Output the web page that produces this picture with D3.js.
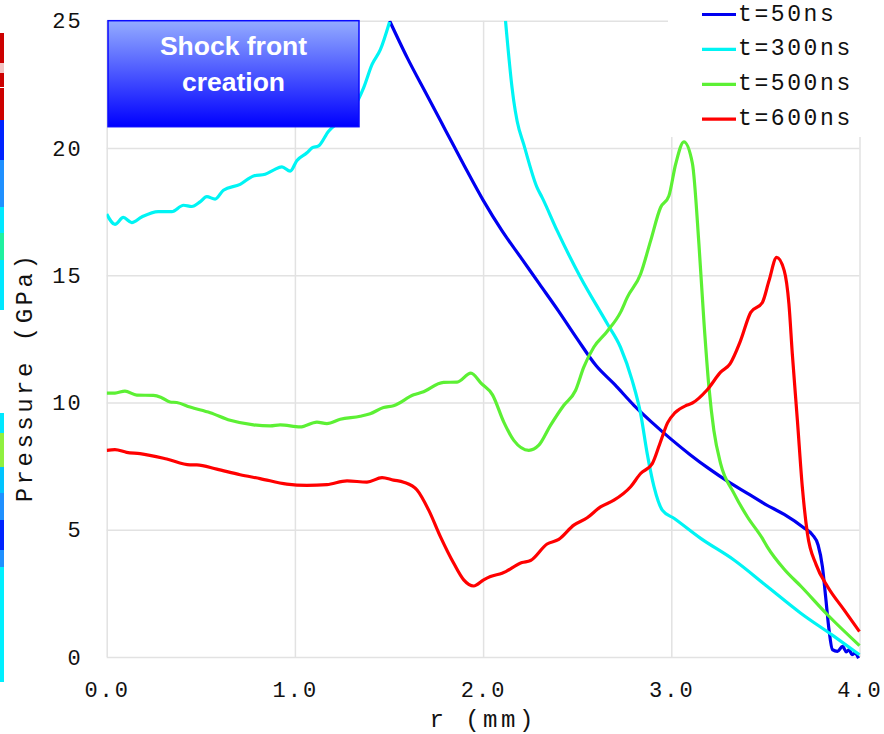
<!DOCTYPE html>
<html>
<head>
<meta charset="utf-8">
<script src="https://cdn.jsdelivr.net/npm/d3@7"></script>
<style>
  body { margin: 0; background: #fff; }
  text { font-family: "Liberation Mono", monospace; fill: #111; }
</style>
</head>
<body>
<div id="chart"></div>
<script>
// r (mm), pressure (GPa)
var t50 = [[1.503,25.0],[1.6,23.5],[1.7,22.1],[1.8,20.7],[1.9,19.3],[2.0,17.95],[2.1,16.75],[2.2,15.7],
  [2.3,14.65],[2.4,13.6],[2.5,12.5],[2.6,11.45],[2.7,10.7],[2.8,9.9],[2.9,9.2],[3.0,8.55],[3.1,7.95],
  [3.2,7.4],[3.3,6.9],[3.4,6.45],[3.5,6.0],[3.6,5.6],[3.7,5.1],[3.75,4.8],[3.78,4.4],[3.803,3.55],
  [3.82,2.37],[3.838,1.07],[3.856,0.29],[3.883,0.22],[3.91,0.42],[3.93,0.2],[3.945,0.29],[3.96,0.09],
  [3.975,0.15],[3.995,-0.05]];

var t300 = [[0,17.4],[0.044,17.0],[0.088,17.27],[0.133,17.07],[0.186,17.29],[0.274,17.5],[0.346,17.5],
  [0.408,17.75],[0.452,17.7],[0.496,17.88],[0.532,18.09],[0.576,17.99],[0.62,18.34],[0.709,18.57],
  [0.78,18.9],[0.842,18.97],[0.886,19.13],[0.931,19.26],[0.975,19.09],[1.011,19.51],[1.064,19.81],
  [1.091,20.0],[1.126,20.08],[1.179,20.66],[1.241,21.05],[1.312,21.57],[1.365,22.36],[1.41,23.28],
  [1.454,23.86],[1.503,24.95],null,
  [2.119,25.0],[2.154,22.36],[2.163,21.84],[2.181,21.05],[2.216,20.14],[2.287,18.44],[2.314,18.05],
  [2.394,16.74],[2.518,14.91],[2.66,13.09],[2.73,12.17],[2.792,10.87],[2.837,9.56],[2.872,7.99],
  [2.908,6.69],[2.952,5.77],[3.014,5.45],[3.156,4.66],[3.333,3.81],[3.51,2.77],[3.688,1.72],
  [3.865,0.81],[4.0,0.09]];

var t500 = [[0,10.37],[0.044,10.37],[0.097,10.45],[0.16,10.29],[0.248,10.28],[0.292,10.19],[0.337,10.02],
  [0.372,10.0],[0.443,9.82],[0.55,9.6],[0.656,9.3],[0.78,9.12],[0.869,9.08],[0.922,9.12],[1.028,9.04],
  [1.117,9.23],[1.17,9.17],[1.241,9.34],[1.347,9.46],[1.4,9.56],[1.471,9.8],[1.524,9.87],[1.631,10.3],
  [1.675,10.4],[1.79,10.79],[1.862,10.8],[1.935,11.15],[1.99,10.75],[2.05,10.3],[2.11,9.23],[2.163,8.51],
  [2.243,8.12],[2.296,8.32],[2.358,9.1],[2.429,9.89],[2.491,10.47],[2.535,11.39],[2.588,12.17],[2.66,12.8],
  [2.73,13.54],[2.766,14.13],[2.837,15.05],[2.89,16.35],[2.943,17.66],[2.987,18.11],[3.023,19.36],
  [3.067,20.24],[3.112,19.4],[3.147,16.2],[3.173,13.22],[3.2,10.6],[3.226,8.91],[3.262,7.6],[3.333,6.43],
  [3.404,5.51],[3.484,4.66],[3.51,4.33],[3.6,3.45],[3.69,2.77],[3.83,1.66],[4.0,0.45]];

var t600 = [[0,8.12],[0.044,8.15],[0.106,8.04],[0.177,7.99],[0.319,7.78],[0.443,7.55],[0.479,7.55],
  [0.585,7.38],[0.709,7.16],[0.815,7.01],[0.957,6.79],[1.064,6.74],[1.17,6.77],[1.277,6.92],[1.383,6.87],
  [1.463,7.05],[1.524,6.95],[1.578,6.87],[1.649,6.56],[1.711,5.77],[1.773,4.73],[1.844,3.68],[1.897,3.03],
  [1.95,2.79],[2.003,3.03],[2.039,3.16],[2.101,3.29],[2.207,3.71],[2.252,3.79],[2.34,4.44],[2.402,4.62],
  [2.482,5.18],[2.553,5.47],[2.624,5.9],[2.695,6.16],[2.784,6.69],[2.837,7.21],[2.899,7.6],[2.94,8.4],
  [2.98,9.2],[3.02,9.6],[3.085,9.9],[3.112,9.98],[3.191,10.5],[3.262,11.19],[3.312,11.52],[3.368,12.43],
  [3.422,13.54],[3.484,13.93],[3.519,14.78],[3.56,15.7],[3.6,15.18],[3.625,13.87],[3.643,11.91],
  [3.67,9.3],[3.696,6.69],[3.723,4.86],[3.77,3.62],[3.83,2.77],[3.918,1.85],[4.0,1.0]];

var seriesNames = ["t=50ns", "t=300ns", "t=500ns", "t=600ns"];
var seriesColors = ["#0000f0", "#00f4f4", "#5cf034", "#ff0000"];
var seriesData = [t50, t300, t500, t600];

var xTicks = [0, 1, 2, 3, 4];
var yTicks = [0, 5, 10, 15, 20, 25];

// the colour strip cut off at the left edge of the slide: [top, bottom, colour]
var stripBands = [[33,63,"#cc0000"],[63,73,"#f2c4c4"],[73,87,"#cc0000"],[88,120,"#cc0000"],
  [120,160,"#0024ff"],[160,207,"#2090ff"],[207,233,"#00e8ff"],[233,260,"#20f0a0"],[260,310,"#00e8ff"],
  [413,433,"#00e8ff"],[433,467,"#90f040"],[467,493,"#00c4ff"],[493,520,"#2090ff"],[520,550,"#0024ff"],
  [550,567,"#2090ff"],[567,682,"#00f0ff"]];

var W = 884, H = 734;
var margin = {top: 20.7, right: 24.5, bottom: 77, left: 106.7},
    width = W - margin.left - margin.right,
    height = H - margin.top - margin.bottom;

var root = d3.select("#chart").append("svg")
    .attr("width", W)
    .attr("height", H);

root.append("rect").attr("width", W).attr("height", H).attr("fill", "#fff");

root.selectAll(".strip")
    .data(stripBands)
  .enter().append("rect")
    .attr("class", "strip")
    .attr("x", 0)
    .attr("width", 4)
    .attr("y", function(d){ return d[0]; })
    .attr("height", function(d){ return d[1] - d[0]; })
    .attr("fill", function(d){ return d[2]; });

var svg = root.append("g")
    .attr("transform", "translate(" + margin.left + "," + margin.top + ")");

var x = d3.scaleLinear().domain([0, 4]).range([0, width]);
var y = d3.scaleLinear().domain([0, 25]).range([height, 0]);

// grid
svg.append("g")
    .attr("class", "grid")
    .attr("transform", "translate(0," + height + ")")
    .call(d3.axisBottom(x).tickValues(xTicks).tickSize(-height).tickFormat(""));
svg.append("g")
    .attr("class", "grid")
    .call(d3.axisLeft(y).tickValues(yTicks).tickSize(-width).tickFormat(""));
svg.selectAll(".grid .domain").remove();
svg.selectAll(".grid line").attr("stroke", "#e2e2e2").attr("stroke-width", 1.5);

// tick labels
var xAx = svg.append("g")
    .attr("transform", "translate(0," + height + ")")
    .call(d3.axisBottom(x).tickValues(xTicks).tickSize(0).tickPadding(24).tickFormat(d3.format(".1f")));
var yAx = svg.append("g")
    .call(d3.axisLeft(y).tickValues(yTicks).tickSize(0).tickPadding(24).tickFormat(d3.format("d")));
[xAx, yAx].forEach(function(a){
  a.select(".domain").remove();
  a.selectAll("text")
    .style("font-family", "Liberation Mono, monospace")
    .style("font-size", "22px")
    .style("letter-spacing", "2px")
    .attr("fill", "#111");
});

// axis titles
svg.append("text")
    .attr("x", width / 2)
    .attr("y", height + 70)
    .attr("text-anchor", "middle")
    .style("font-size", "24px")
    .style("letter-spacing", "3.5px")
    .text("r (mm)");
svg.append("text")
    .attr("transform", "rotate(-90)")
    .attr("x", -(377 - margin.top))
    .attr("y", 25 - margin.left)
    .attr("text-anchor", "middle")
    .attr("dominant-baseline", "central")
    .style("font-size", "24px")
    .style("letter-spacing", "3.5px")
    .text("Pressure (GPa)");

// curves
svg.append("clipPath").attr("id", "plotClip")
  .append("rect").attr("x", 0).attr("y", 0).attr("width", width + 2).attr("height", height + 4);

var line = d3.line()
    .defined(function(d){ return d != null; })
    .x(function(d){ return x(d[0]); })
    .y(function(d){ return y(d[1]); })
    .curve(d3.curveMonotoneX);

svg.append("g").attr("clip-path", "url(#plotClip)")
  .selectAll(".curve")
    .data(seriesData)
  .enter().append("path")
    .attr("class", "curve")
    .attr("fill", "none")
    .attr("stroke", function(d,i){ return seriesColors[i]; })
    .attr("stroke-width", 3.2)
    .attr("stroke-linejoin", "round")
    .attr("d", line);

// legend
root.append("rect")
    .attr("x", 668).attr("y", 0).attr("width", W - 668).attr("height", 137)
    .attr("fill", "#fff");
var leg = root.selectAll(".leg")
    .data(seriesNames)
  .enter().append("g")
    .attr("class", "leg")
    .attr("transform", function(d,i){ return "translate(702," + (14.5 + i * 34.9) + ")"; });
leg.append("line")
    .attr("x1", 0).attr("x2", 34)
    .attr("stroke", function(d,i){ return seriesColors[i]; })
    .attr("stroke-width", 3.2);
leg.append("text")
    .attr("x", 36)
    .attr("dominant-baseline", "central")
    .style("font-size", "23px")
    .style("letter-spacing", "2.6px")
    .text(function(d){ return d; });

// annotation box
var grad = root.append("defs").append("linearGradient")
    .attr("id", "boxGrad").attr("x1", 0).attr("y1", 0).attr("x2", 0).attr("y2", 1);
grad.append("stop").attr("offset", "0%").attr("stop-color", "#94acff");
grad.append("stop").attr("offset", "100%").attr("stop-color", "#0000ff");

root.append("rect")
    .attr("x", 108).attr("y", 20.7).attr("width", 251).attr("height", 106)
    .attr("fill", "url(#boxGrad)")
    .attr("stroke", "#0a0aff").attr("stroke-width", 1.5);
["Shock front", "creation"].forEach(function(s, i){
  root.append("text")
      .attr("x", 233.5)
      .attr("y", 55 + i * 35.5)
      .attr("text-anchor", "middle")
      .style("font-family", "Liberation Sans, Arial, sans-serif")
      .style("font-weight", "bold")
      .style("font-size", "26.5px")
      .style("fill", "#fff")
      .text(s);
});
</script>
</body>
</html>
